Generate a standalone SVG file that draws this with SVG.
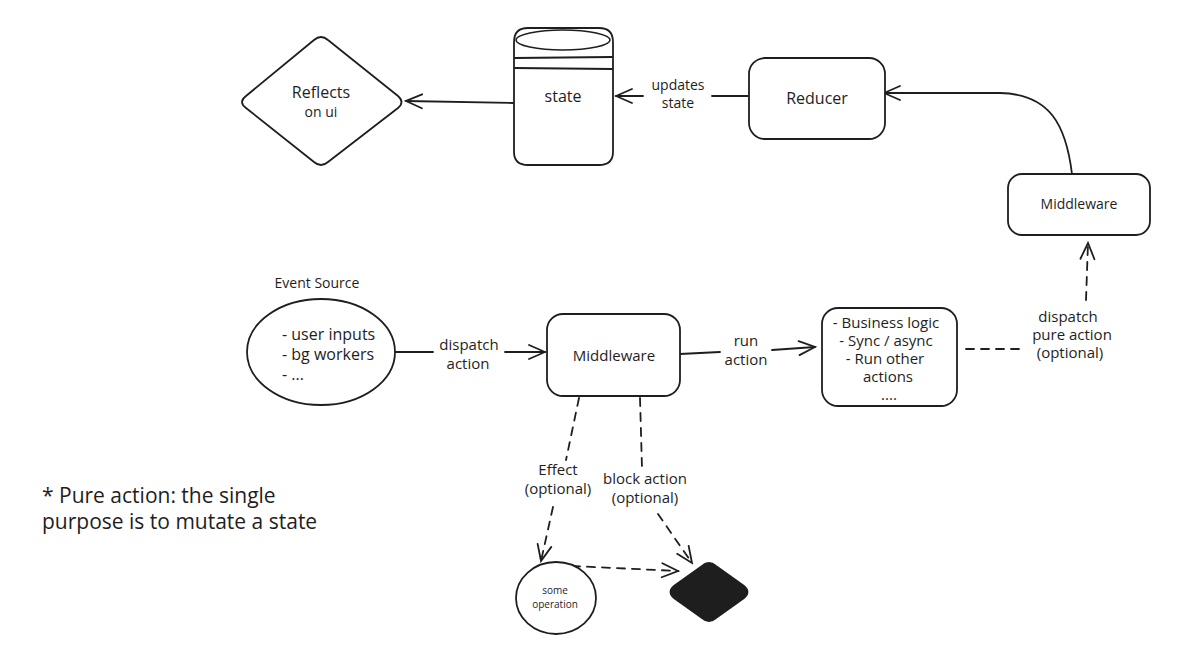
<svg xmlns="http://www.w3.org/2000/svg" width="1200" height="668" viewBox="0 0 1200 668">
<style>
.s{fill:#fff;stroke:#1e1e1e;stroke-width:1.8;stroke-linejoin:round}
.l{fill:none;stroke:#1e1e1e;stroke-width:1.8;stroke-linecap:round}
.d{fill:none;stroke:#1e1e1e;stroke-width:1.8;stroke-dasharray:8 7;stroke-linecap:round}
text{font-family:"Open Sans","DejaVu Sans",sans-serif;fill:#1e1e1e;text-anchor:middle}
.t14{font-size:14px}
.t15{font-size:15px}
.t16{font-size:16px}
.t17{font-size:16px;text-anchor:start}
.sm{font-size:10px}
.note{font-size:21px;text-anchor:start}
</style>
<defs>
<marker id="ah" viewBox="0 0 20 20" refX="18" refY="10" markerWidth="20" markerHeight="20" markerUnits="userSpaceOnUse" orient="auto">
<path d="M2,3 L18,10 L2,17" fill="none" stroke="#1e1e1e" stroke-width="1.8" stroke-linecap="round"/>
</marker>
</defs>
<rect width="1200" height="668" fill="#fff"/>

<g id="connectors">
<path class="l" d="M513,103 L406,101" marker-end="url(#ah)"/>
<path class="l" d="M748,96 L712,96"/>
<path class="l" d="M643,96 L616,96" marker-end="url(#ah)"/>
<text class="t14" x="678" y="90">updates</text>
<text class="t14" x="678" y="108">state</text>
<path class="l" d="M1072,174 C1066,125 1050,94 1000,93 L884,93" marker-end="url(#ah)"/>
<path class="l" d="M395,352 L433,352"/>
<path class="l" d="M505,352 L545,352" marker-end="url(#ah)"/>
<text class="t15" x="469" y="350">dispatch</text>
<text class="t15" x="468" y="369">action</text>
<path class="l" d="M680,354 L720,352"/>
<path class="l" d="M772,350 L815,347" marker-end="url(#ah)"/>
<text class="t15" x="746" y="346">run</text>
<text class="t15" x="746" y="365">action</text>
<path class="d" d="M966,349 L1025,349"/>
<text class="t15" x="1068" y="322">dispatch</text>
<text class="t15" x="1072" y="340">pure action</text>
<text class="t15" x="1070" y="358">(optional)</text>
<path class="d" d="M1086,300 L1088,243" marker-end="url(#ah)"/>
<path class="d" d="M579,398 L566,460"/>
<text class="t15" x="558" y="475">Effect</text>
<text class="t15" x="558" y="494">(optional)</text>
<path class="d" d="M553,507 L541,561" marker-end="url(#ah)"/>
<path class="d" d="M640,398 L642,468"/>
<text class="t15" x="645" y="484">block action</text>
<text class="t15" x="645" y="503">(optional)</text>
<path class="d" d="M658,514 L692,563" marker-end="url(#ah)"/>
<path class="d" d="M572,566 L678,571" marker-end="url(#ah)"/>
</g>

<g id="reflects">
<path class="s" d="M314,40 Q321,34 328,40 L398,96 Q405,102 398,108 L328,162 Q321,168 314,162 L246,108 Q238,102 246,96 Z"/>
<text class="t16" x="321" y="98">Reflects</text>
<text class="t14" x="321" y="117">on ui</text>
</g>

<g id="state">
<path class="s" d="M514,42 Q514,28 528,28 L599,28 Q613,28 613,42 L613,152 Q613,165 599,165 L528,165 Q514,165 514,152 Z"/>
<ellipse cx="563" cy="40" rx="47" ry="10" fill="none" stroke="#1e1e1e" stroke-width="1.6"/>
<path class="l" d="M515,58 L612,57 M515,68 L612,69"/>
<text class="t16" x="563" y="102">state</text>
</g>

<g id="reducer">
<rect class="s" x="749" y="58" width="136" height="81" rx="16"/>
<text class="t16" x="817" y="104">Reducer</text>
</g>

<g id="middleware-top">
<rect class="s" x="1008" y="174" width="142" height="61" rx="14"/>
<text class="t14" x="1079" y="209">Middleware</text>
</g>

<g id="event-source">
<text class="t14" x="317" y="288">Event Source</text>
<ellipse class="s" cx="321" cy="352" rx="74" ry="53"/>
<text class="t17" x="282" y="340">- user inputs</text>
<text class="t17" x="282" y="360">- bg workers</text>
<text class="t17" x="282" y="380">- ...</text>
</g>

<g id="middleware">
<rect class="s" x="547" y="314" width="133" height="82" rx="16"/>
<text class="t15" x="614" y="361">Middleware</text>
</g>

<g id="business">
<rect class="s" x="822" y="308" width="135" height="98" rx="16"/>
<text class="t15" x="886" y="328">- Business logic</text>
<text class="t15" x="886" y="346">- Sync / async</text>
<text class="t15" x="885" y="364">-  Run other</text>
<text class="t15" x="888" y="382">actions</text>
<text class="t15" x="889" y="400">....</text>
</g>

<g id="some-operation">
<ellipse class="s" cx="556" cy="598" rx="40" ry="36"/>
<text class="sm" x="555" y="594">some</text>
<text class="sm" x="555" y="608">operation</text>
</g>

<g id="block">
<path d="M702,566 Q709,560 716,566 L744,586 Q751,592 744,598 L716,618 Q709,624 702,618 L674,598 Q667,592 674,586 Z" fill="#1e1e1e" stroke="#1e1e1e" stroke-width="1.8"/>
</g>

<g id="note">
<text class="note" x="42" y="503">* Pure action: the single</text>
<text class="note" x="42" y="529">purpose is to mutate a state</text>
</g>
</svg>
